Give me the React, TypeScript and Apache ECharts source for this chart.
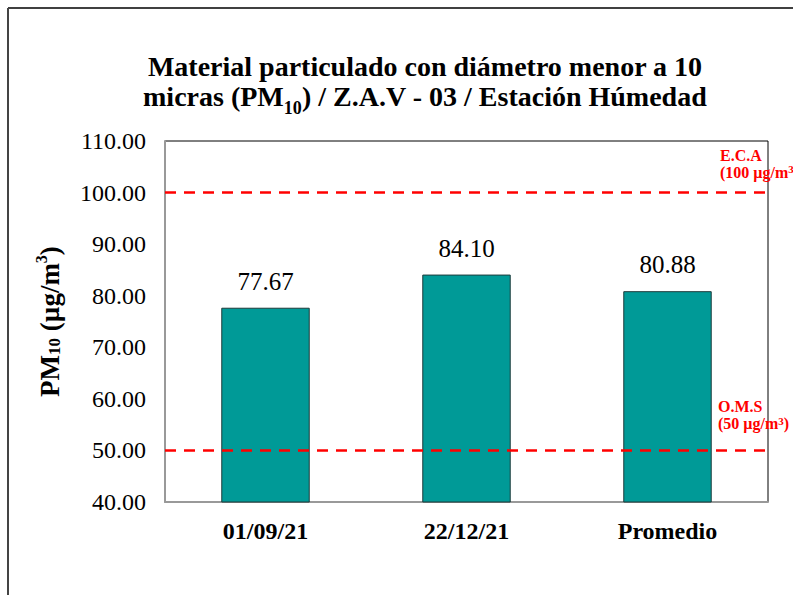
import React, { useEffect, useRef } from "react";
import * as echarts from "echarts";

const categories = ["01/09/21", "22/12/21", "Promedio"];
const pm10Values = [77.67, 84.1, 80.88];
const ecaLimit = 100;
const omsLimit = 50;
const yTicks = { min: 40, max: 110, interval: 10 };

const FONT = "Liberation Serif, Times New Roman, serif";

export default function App() {
  const ref = useRef<HTMLDivElement>(null);

  useEffect(() => {
    if (!ref.current) return;
    const chart = echarts.init(ref.current, null, { renderer: "svg" });
    const option: any = {
      animation: false,
      backgroundColor: "#ffffff",
      title: {
        left: 420,
        textAlign: "center",
        top: 45,
        text:
          "{t|Material particulado con diámetro menor a 10}\n{t|micras (PM}{sub|10}{t|) / Z.A.V - 03 / Estación Húmedad}",
        textStyle: {
          fontFamily: FONT,
          rich: {
            t: { fontFamily: FONT, fontSize: 28, fontWeight: "bold", color: "#000", lineHeight: 30, verticalAlign: "bottom" },
            sub: { fontFamily: FONT, fontSize: 18, fontWeight: "bold", color: "#000", lineHeight: 30, verticalAlign: "bottom", padding: [0, 0, -7, 0] },
          },
        },
      },
      grid: { left: 165, right: 25, top: 141, bottom: 93, show: true, borderColor: "#000", borderWidth: 1 },
      xAxis: {
        type: "category",
        data: categories,
        axisTick: { show: false },
        axisLine: { lineStyle: { color: "#999", width: 2 } },
        axisLabel: { fontFamily: FONT, fontSize: 24, fontWeight: "bold", color: "#000", margin: 17 },
      },
      yAxis: {
        type: "value",
        min: yTicks.min,
        max: yTicks.max,
        interval: yTicks.interval,
        splitLine: { show: false },
        axisTick: { show: false },
        axisLine: { show: true, lineStyle: { color: "#999", width: 2 } },
        axisLabel: {
          fontFamily: FONT,
          fontSize: 24,
          color: "#000",
          margin: 19,
          formatter: (v: number) => v.toFixed(2),
        },
        name: "{b|PM}{s|10}{b| (µg/m}{sup|3}{b|)}",
        nameLocation: "middle",
        nameRotate: 90,
        nameGap: 102,
        nameTextStyle: {
          fontFamily: FONT,
          rich: {
            b: { fontFamily: FONT, fontSize: 27, fontWeight: "bold", color: "#000", lineHeight: 30, verticalAlign: "bottom" },
            s: { fontFamily: FONT, fontSize: 17, fontWeight: "bold", color: "#000", lineHeight: 30, verticalAlign: "bottom" },
            sup: { fontFamily: FONT, fontSize: 16, fontWeight: "bold", color: "#000", lineHeight: 30, verticalAlign: "top" },
          },
        },
      },
      series: [
        {
          type: "bar",
          data: pm10Values,
          barWidth: "44%",
          itemStyle: { color: "#009a97", borderColor: "#1d3b3b", borderWidth: 1 },
          label: {
            show: true,
            position: "top",
            distance: 14,
            fontFamily: FONT,
            fontSize: 25,
            color: "#000",
            formatter: (p: any) => Number(p.value).toFixed(2),
          },
          markLine: {
            silent: true,
            symbol: "none",
            label: { show: false },
            lineStyle: { color: "#ff0000", type: [11, 8], width: 2.5 },
            data: [{ yAxis: ecaLimit }, { yAxis: omsLimit }],
          },
        },
      ],
    };
    chart.setOption(option);

    const yEca = chart.convertToPixel({ yAxisIndex: 0 }, ecaLimit) as number;
    const yOms = chart.convertToPixel({ yAxisIndex: 0 }, omsLimit) as number;
    const labelRich = {
      r: { fontFamily: FONT, fontSize: 16, fontWeight: "bold", fill: "#ff0000", lineHeight: 17 },
      sup: { fontFamily: FONT, fontSize: 11, fontWeight: "bold", fill: "#ff0000", lineHeight: 17, verticalAlign: "top" },
    };
    chart.setOption({
      graphic: [
        { type: "line", shape: { x1: 8, y1: 8, x2: 800, y2: 8 }, style: { stroke: "#000", lineWidth: 1.5 }, z: 100 },
        { type: "line", shape: { x1: 8, y1: 8, x2: 8, y2: 600 }, style: { stroke: "#444", lineWidth: 2 }, z: 100 },
        {
          type: "text",
          x: 720,
          y: yEca - 46,
          style: {
            text: "{r|E.C.A}\n{r|(100 µg/m}{sup|3}",
            font: `bold 16px ${FONT}`,
            rich: labelRich,
          },
          z: 100,
        },
        {
          type: "text",
          x: 718,
          y: yOms - 52,
          style: {
            text: "{r|O.M.S}\n{r|(50 µg/m}{sup|3}{r|)}",
            font: `bold 16px ${FONT}`,
            rich: labelRich,
          },
          z: 100,
        },
      ],
    });

    return () => chart.dispose();
  }, []);

  return (
    <div
      ref={ref}
      style={{ position: "fixed", left: 0, top: 0, width: 793, height: 595, background: "#fff" }}
    />
  );
}
